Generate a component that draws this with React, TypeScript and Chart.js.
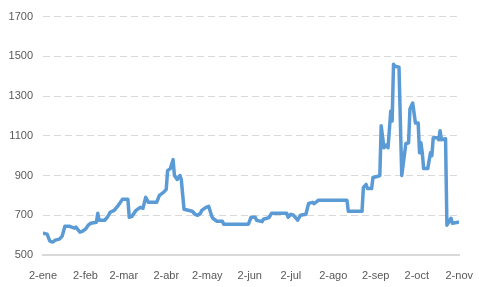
import React, { useEffect, useRef } from "react";
import { Chart, registerables } from "chart.js";

Chart.register(...registerables);

// days since 2-ene
const days = [
  0, 3, 5, 7, 9, 12, 14, 16, 19, 21, 23, 24, 27, 29, 31, 33, 35, 39, 40, 41,
  45, 47, 49, 52, 55, 58, 62, 63, 65, 68, 71, 73, 75, 77, 83, 85, 88, 90, 91, 93,
  95, 96, 98, 100, 101, 103, 106, 109, 111, 113, 115, 116, 119, 121, 123, 124, 127, 131, 132, 150,
  152, 155, 156, 160, 161, 165, 167, 178, 179, 181, 183, 186, 188, 192, 194, 197, 198, 201, 222, 223,
  233, 234, 236, 237, 240, 241, 244, 246, 247, 249, 251, 252, 254, 255, 256, 257, 260, 262, 265, 267,
  268, 270, 272, 274, 275, 276, 277, 278, 281, 283, 284, 285, 288, 289, 290, 291, 294, 295, 298, 299,
  303,
];
const prices = [
  610, 605, 570, 565, 575, 580, 595, 645, 645, 640, 635, 640, 615, 620, 630, 650, 660, 665, 710, 675,
  675, 690, 715, 725, 750, 780, 780, 690, 695, 725, 740, 735, 790, 765, 765, 800, 815, 830, 925, 935,
  980, 900, 880, 900, 880, 730, 725, 720, 705, 700, 710, 725, 740, 745, 700, 685, 670, 670, 655, 655,
  690, 690, 675, 668, 680, 688, 710, 710, 690, 705, 700, 675, 700, 705, 760, 765, 758, 775, 775, 720,
  720, 840, 855, 835, 835, 890, 895, 900, 1150, 1040, 1055, 1040, 1225, 1175, 1460, 1450, 1445, 900, 1060, 1065,
  1235, 1265, 1165, 1165, 1015, 1065, 1015, 935, 935, 1015, 1000, 1090, 1090, 1080, 1125, 1080, 1085, 650, 685, 660,
  665,
];
const tickDays = [0, 31, 59, 90, 120, 151, 181, 212, 243, 273, 304];
const tickLabels = ["2-ene", "2-feb", "2-mar", "2-abr", "2-may", "2-jun", "2-jul", "2-ago", "2-sep", "2-oct", "2-nov"];
const yMin = 500;
const yMax = 1700;
const yStep = 200;

export default function App() {
  const ref = useRef<HTMLCanvasElement | null>(null);
  useEffect(() => {
    if (!ref.current) return;
    const font = { family: "'Liberation Sans', Arial, sans-serif", size: 11 };
    const chart = new Chart(ref.current, {
      type: "line",
      data: {
        datasets: [
          {
            data: days.map((d, i) => ({ x: d, y: prices[i] })),
            borderColor: "#5B9BD5",
            borderWidth: 3.5,
            pointRadius: 0,
            tension: 0,
            borderJoinStyle: "round",
            borderCapStyle: "round",
          },
        ],
      },
      options: {
        animation: false,
        responsive: false,
        maintainAspectRatio: false,
        layout: { padding: { left: 0, right: 13, top: 14, bottom: 0 } },
        plugins: { legend: { display: false }, tooltip: { enabled: false } },
        scales: {
          x: {
            type: "linear",
            min: 0,
            max: 304,
            afterBuildTicks: (axis: any) => {
              axis.ticks = tickDays.map((v) => ({ value: v }));
            },
            afterFit: (axis: any) => {
              axis.height = 32;
            },
            ticks: {
              autoSkip: false,
              maxRotation: 0,
              padding: 6,
              color: "#595959",
              font,
              callback: (v: any) => {
                const i = tickDays.indexOf(Number(v));
                return i >= 0 ? tickLabels[i] : "";
              },
            },
            grid: { display: false },
            border: { display: true, color: "#D9D9D9", width: 2 },
          },
          y: {
            min: yMin,
            max: yMax,
            afterFit: (axis: any) => {
              axis.width = 43;
            },
            ticks: {
              stepSize: yStep,
              color: "#595959",
              font,
              padding: 10,
              callback: (v: any) => String(v),
            },
            grid: {
              drawTicks: false,
              color: (ctx: any) => (ctx.tick && ctx.tick.value === yMin ? "rgba(0,0,0,0)" : "#D9D9D9"),
              lineWidth: 1,
            },
            border: { display: false, dash: [7, 4] },
          },
        },
      },
    });
    return () => chart.destroy();
  }, []);
  return (
    <div style={{ position: "fixed", left: 0, top: 0, width: 479, height: 287, background: "#fff" }}>
      <canvas ref={ref} width={479} height={287} style={{ width: 479, height: 287 }} />
    </div>
  );
}
